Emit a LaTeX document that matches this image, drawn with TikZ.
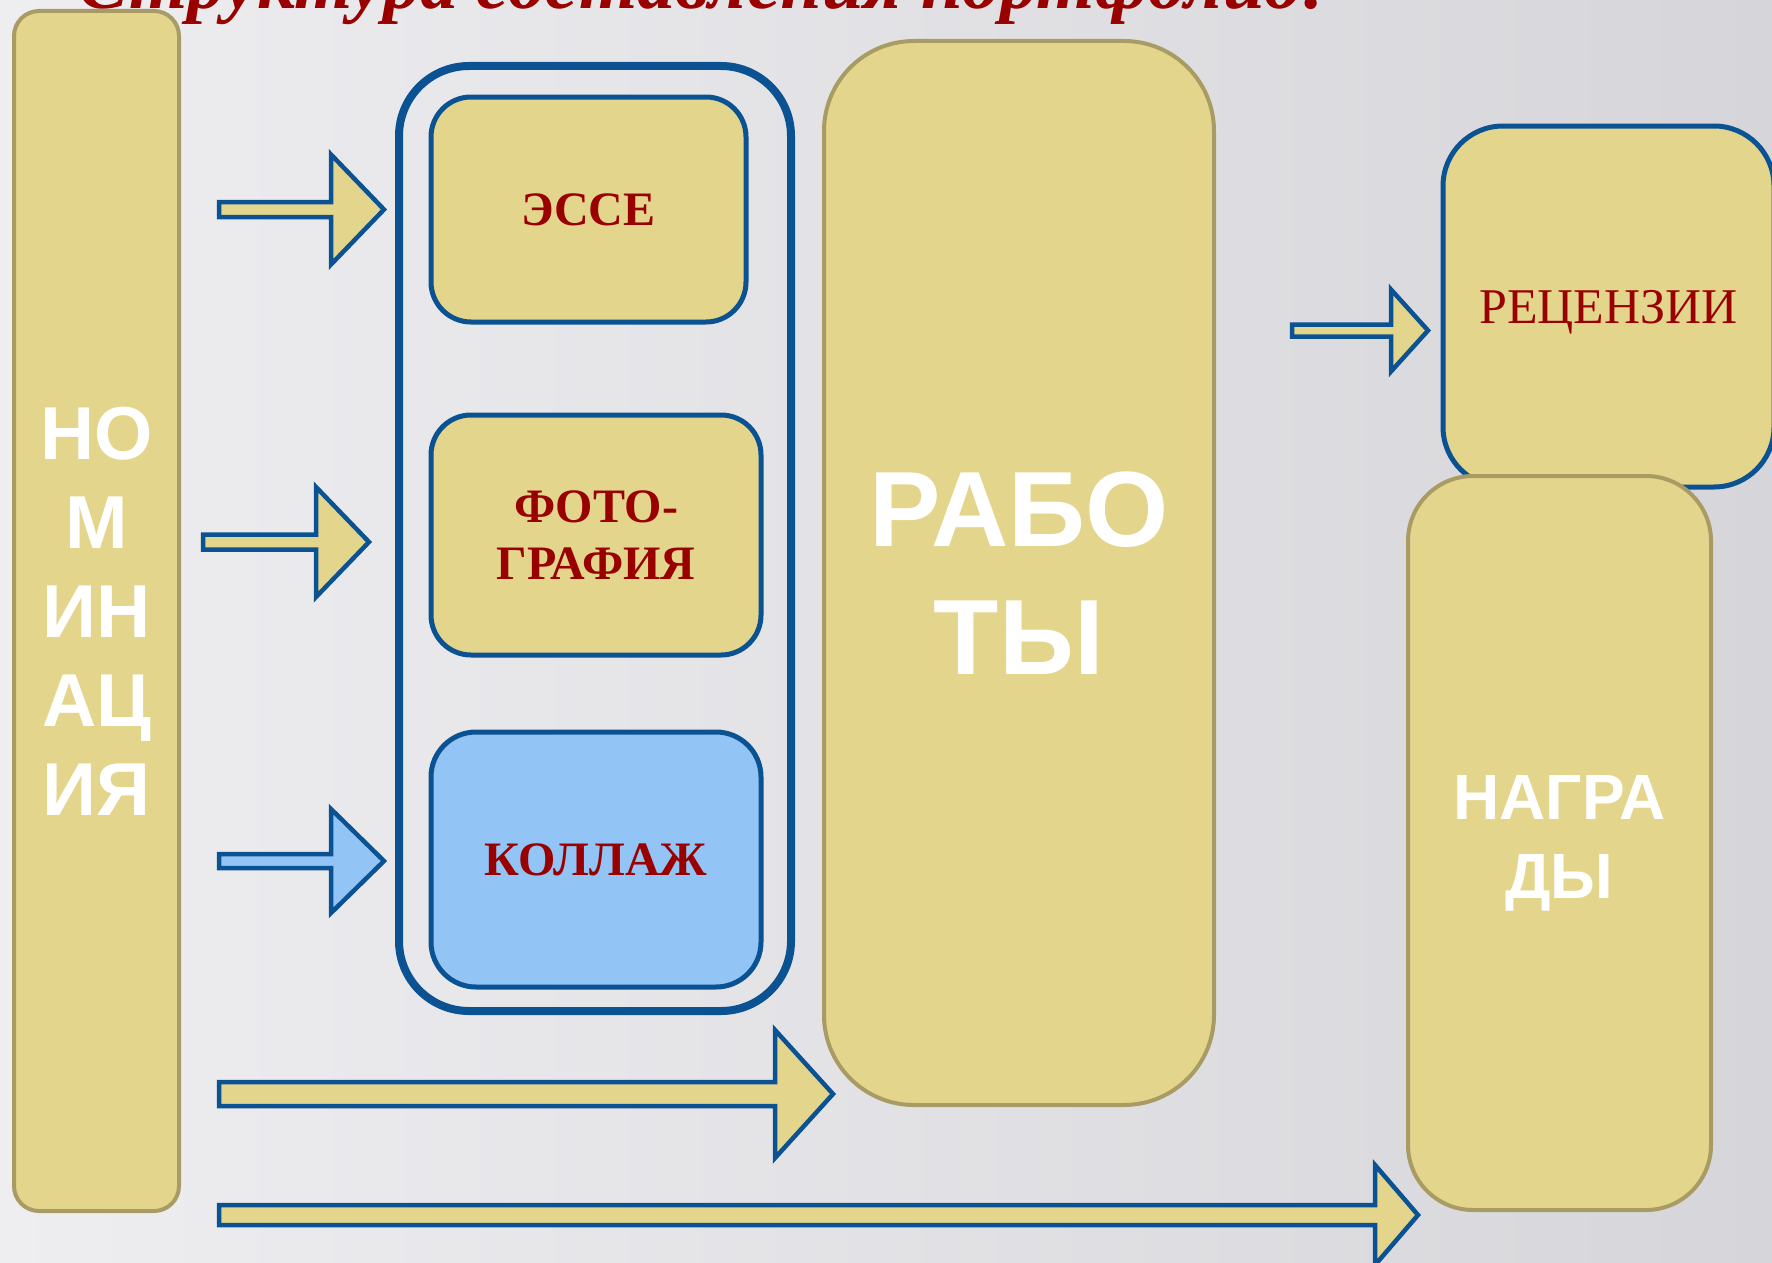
\documentclass[tikz,border=0pt]{standalone}
\usepackage{fontspec}
\setmainfont{Liberation Serif}
\setsansfont{Liberation Sans}
\usetikzlibrary{calc}
\definecolor{sand}{RGB}{228,213,140}
\definecolor{olivedge}{RGB}{168,156,100}
\definecolor{frameblue}{RGB}{11,82,146}
\definecolor{skyblue}{RGB}{146,196,245}
\definecolor{wine}{RGB}{153,0,0}
\definecolor{paperlight}{RGB}{238,238,241}
\definecolor{paperdark}{RGB}{214,214,218}
% block arrow: start, tip, shaft half, head half, head length
\newcommand{\blockarrow}[6][]{%
  \draw[arrowbox,#1] ($(#2)+(0,-#4)$) -- ($(#3)+(-#6,-#4)$) -- ($(#3)+(-#6,-#5)$) -- (#3)
    -- ($(#3)+(-#6,#5)$) -- ($(#3)+(-#6,#4)$) -- ($(#2)+(0,#4)$) -- cycle;}
\begin{document}
\begin{tikzpicture}[x=1pt,y=-1pt,
  sandbox/.style={draw=olivedge,line width=4pt,fill=sand,rounded corners=#1,inner sep=0pt,
    text=white,align=center},
  bluebox/.style={draw=frameblue,line width=5pt,fill=sand,rounded corners=#1,inner sep=0pt,
    text=wine,align=center},
  arrowbox/.style={draw=frameblue,line width=4.5pt,fill=sand,line join=miter}]
\useasboundingbox (0,0) rectangle (1772,1263);
\clip (0,0) rectangle (1772,1263);
\shade[left color=paperlight,right color=paperdark] (0,0) rectangle (1772,1263);

\node[anchor=base west,text=wine,inner sep=0pt,font=\bfseries\itshape\fontsize{75}{90}\selectfont]
  (title) at (78,9) {Структура составления  портфолио:};

% left and middle columns
\node[sandbox=25pt,minimum width=165pt,minimum height=1200pt,
  font=\sffamily\bfseries\fontsize{75}{89}\selectfont] (nom) at (96.5,611) {НО\\М\\ИН\\АЦ\\ИЯ};
\node[draw=frameblue,line width=8pt,rounded corners=70pt,minimum width=392pt,minimum height=945pt]
  (frame) at (595,538.5) {};
\node[bluebox=40pt,minimum width=315pt,minimum height=225pt,
  font=\bfseries\fontsize{48}{57}\selectfont] (esse) at (588.5,209.5) {ЭССЕ};
\node[bluebox=40pt,minimum width=330pt,minimum height=240pt,
  font=\bfseries\fontsize{48}{57}\selectfont] (foto) at (596,535) {ФОТО-\\ГРАФИЯ};
\node[bluebox=45pt,fill=skyblue,minimum width=330pt,minimum height=255pt,
  font=\bfseries\fontsize{48}{57}\selectfont] (koll) at (596,859.5) {КОЛЛАЖ};
\node[sandbox=90pt,minimum width=390pt,minimum height=1064pt,
  font=\sffamily\bfseries\fontsize{107}{128}\selectfont] (rab) at (1019,573) {РАБО\\ТЫ};

% right column
\node[bluebox=60pt,minimum width=331pt,minimum height=361pt,text depth=0pt,
  font=\fontsize{50}{60}\selectfont] (rec) at (1608.5,306.5) {РЕЦЕНЗИИ};
\node[sandbox=65pt,minimum width=303pt,minimum height=734pt,
  font=\sffamily\bfseries\fontsize{64}{79}\selectfont] (nag) at (1559.5,843) {НАГРА\\ДЫ};

% arrows
\coordinate (a1s) at (219,209.5);  \coordinate (a1t) at (384,209.5);
\coordinate (a2s) at (203,542);    \coordinate (a2t) at (369,542);
\coordinate (a3s) at (219,861);    \coordinate (a3t) at (384,861);
\coordinate (a4s) at (219,1094);   \coordinate (a4t) at (833,1094);
\coordinate (a5s) at (219,1215);   \coordinate (a5t) at (1418,1215);
\coordinate (a6s) at (1292,330.5); \coordinate (a6t) at (1428,330.5);
\blockarrow{a1s}{a1t}{7.5}{55}{53}
\blockarrow{a2s}{a2t}{7.5}{55}{53}
\blockarrow[fill=skyblue]{a3s}{a3t}{7}{52}{53}
\blockarrow{a4s}{a4t}{12}{64}{58}
\blockarrow{a5s}{a5t}{10}{50}{43}
\blockarrow{a6s}{a6t}{6}{41}{37}
\end{tikzpicture}
\end{document}
